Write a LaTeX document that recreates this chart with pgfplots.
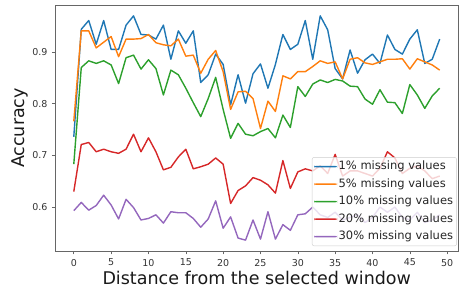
\documentclass[border=0pt]{standalone}
\usepackage{pgfplots}
\usepackage{pgfplotstable}
\pgfplotsset{compat=1.18}
\usepackage{fontspec}
\setmainfont{DejaVu Sans}
\definecolor{tabblue}{HTML}{1F77B4}
\definecolor{taborange}{HTML}{FF7F0E}
\definecolor{tabgreen}{HTML}{2CA02C}
\definecolor{tabred}{HTML}{D62728}
\definecolor{tabpurple}{HTML}{9467BD}
\pgfplotstableread{
x b o g r p
0 0.736 0.766 0.683 0.630 0.593
1 0.944 0.941 0.870 0.721 0.609
2 0.961 0.941 0.883 0.725 0.594
3 0.915 0.908 0.878 0.707 0.603
4 0.961 0.919 0.883 0.712 0.623
5 0.905 0.930 0.875 0.707 0.604
6 0.905 0.891 0.839 0.704 0.577
7 0.952 0.925 0.889 0.712 0.615
8 0.970 0.925 0.894 0.741 0.599
9 0.934 0.926 0.867 0.707 0.575
10 0.933 0.934 0.885 0.734 0.578
11 0.925 0.918 0.868 0.707 0.585
12 0.952 0.914 0.817 0.672 0.569
13 0.886 0.912 0.865 0.677 0.591
14 0.941 0.925 0.856 0.697 0.589
15 0.917 0.892 0.830 0.712 0.589
16 0.941 0.894 0.802 0.674 0.578
17 0.841 0.859 0.775 0.678 0.561
18 0.856 0.886 0.810 0.683 0.577
19 0.896 0.903 0.851 0.695 0.612
20 0.876 0.862 0.789 0.683 0.559
21 0.798 0.789 0.733 0.607 0.581
22 0.856 0.823 0.762 0.632 0.540
23 0.801 0.824 0.741 0.641 0.536
24 0.858 0.810 0.738 0.657 0.575
25 0.877 0.752 0.746 0.652 0.538
26 0.830 0.805 0.752 0.643 0.591
27 0.876 0.785 0.734 0.627 0.538
28 0.934 0.854 0.778 0.690 0.566
29 0.905 0.848 0.754 0.636 0.555
30 0.915 0.862 0.833 0.668 0.585
31 0.961 0.862 0.814 0.674 0.587
32 0.886 0.872 0.838 0.670 0.600
33 0.970 0.883 0.846 0.680 0.585
34 0.943 0.878 0.841 0.665 0.580
35 0.868 0.881 0.847 0.702 0.590
36 0.848 0.848 0.844 0.660 0.575
37 0.904 0.886 0.834 0.670 0.580
38 0.859 0.889 0.833 0.670 0.585
39 0.885 0.879 0.809 0.665 0.570
40 0.896 0.876 0.799 0.660 0.580
41 0.878 0.881 0.827 0.675 0.600
42 0.933 0.886 0.803 0.707 0.590
43 0.905 0.886 0.802 0.695 0.600
44 0.896 0.887 0.781 0.665 0.580
45 0.925 0.867 0.837 0.675 0.575
46 0.943 0.887 0.817 0.680 0.590
47 0.878 0.881 0.791 0.670 0.570
48 0.886 0.875 0.815 0.655 0.575
49 0.925 0.865 0.830 0.660 0.585
}\datatable
\begin{document}
\begin{tikzpicture}[x=1pt,y=1pt]
\useasboundingbox (0,0) rectangle (459,295);
\begin{axis}[
  at={(55.5pt,44pt)}, anchor=south west,
  scale only axis, width=402.5pt, height=246pt,
  xmin=-2.45, xmax=51.45, ymin=0.515, ymax=0.991,
  xtick={0,5,...,50}, ytick={0.6,0.7,0.8,0.9},
  axis line style={black!60},
  tick style={black!60, line width=0.6pt},
  tick align=outside, major tick length=3.5pt,
  xtick pos=bottom, ytick pos=left,
  /pgf/number format/assume math mode=true,
  y tick label style={/pgf/number format/fixed, /pgf/number format/precision=1, /pgf/number format/fixed zerofill},
  ticklabel style={font=\fontsize{9.5}{11}\selectfont, text=black!80},
  xticklabel style={yshift=-1pt},
  yticklabel style={xshift=-1pt},
  xlabel={Distance from the selected window},
  ylabel={Accuracy},
  label style={font=\fontsize{17.5}{20}\selectfont, text=black!90},
  xlabel style={at={(axis description cs:0.5,-0.11)}, anchor=center},
  ylabel style={at={(axis description cs:-0.088,0.5)}, anchor=center},
  every axis plot/.append style={line width=1.4pt, line join=round},
  legend cell align=left,
  legend style={at={(rel axis cs:0.997,0.02)}, anchor=south east,
    draw=black!20, rounded corners=2pt, fill=white, fill opacity=0.8, text opacity=1,
    font=\fontsize{11.5}{13}\selectfont, text=black!85,
    inner sep=2pt, row sep=3pt,
    nodes={inner sep=1.5pt, text height=8.8pt, text depth=2.7pt}},
  legend image code/.code={\path[#1, draw=none, fill, fill opacity=1] (0pt,-0.8pt) rectangle (23pt,0.8pt);},
]
\addplot[tabblue] table[x=x,y=b] {\datatable};
\addlegendentry{1\% missing values}
\addplot[taborange] table[x=x,y=o] {\datatable};
\addlegendentry{5\% missing values}
\addplot[tabgreen] table[x=x,y=g] {\datatable};
\addlegendentry{10\% missing values}
\addplot[tabred] table[x=x,y=r] {\datatable};
\addlegendentry{20\% missing values}
\addplot[tabpurple] table[x=x,y=p] {\datatable};
\addlegendentry{30\% missing values}
\end{axis}
\end{tikzpicture}
\end{document}
